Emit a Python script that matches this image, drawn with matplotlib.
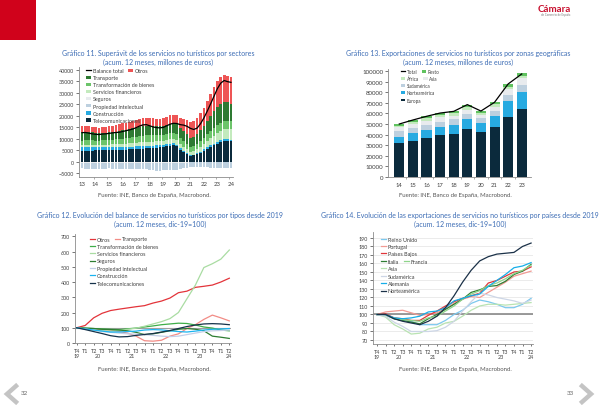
import matplotlib
matplotlib.use("Agg")
import matplotlib.pyplot as plt
from matplotlib.legend import Legend
from matplotlib.lines import Line2D
from matplotlib.patches import Rectangle

W, H = 600, 406
plt.rcParams["font.family"] = ["Lato", "DejaVu Sans"]

# ---------- Chart 1: superavit por sectores (2013T1 - 2024T1) ----------
c1_years = ["13", "14", "15", "16", "17", "18", "19", "20", "21", "22", "23", "24"]
c1_telecom = [4700, 4750, 4800, 4850, 4900, 4950, 5000, 5000, 5000, 5000, 5050, 5100,
              5150, 5200, 5300, 5400, 5500, 5600, 5700, 5800, 5900, 6000, 6100, 6200,
              6400, 6700, 7000, 7100, 6600, 5200, 4100, 3300, 2600, 2700, 3200, 3900,
              4800, 5700, 6500, 7200, 7900, 8500, 9000, 9100, 8800]
c1_construccion = [1600, 1600, 1550, 1550, 1500, 1500, 1450, 1450, 1400, 1400, 1350, 1300,
                   1300, 1250, 1200, 1150, 1100, 1100, 1050, 1000, 1000, 950, 950, 900,
                   900, 900, 850, 850, 800, 700, 600, 500, 350, 400, 450, 500,
                   550, 600, 650, 700, 750, 800, 800, 800, 800]
c1_financieros = [900, 900, 900, 900, 900, 900, 950, 1000, 1050, 1100, 1150, 1200,
                  1300, 1400, 1500, 1600, 1700, 1800, 1850, 1850, 1850, 1800, 1750, 1750,
                  1750, 1800, 1850, 1900, 1850, 1750, 1650, 1500, 1400, 1500, 1700, 1900,
                  2200, 2600, 3000, 3400, 3800, 4100, 4300, 4400, 4500]
c1_transformacion = [2000, 2000, 2000, 1950, 1900, 1850, 1850, 1900, 1950, 2000, 2100, 2200,
                     2300, 2400, 2450, 2500, 2600, 2700, 2750, 2800, 2750, 2700, 2650, 2650,
                     2650, 2700, 2750, 2800, 2750, 2650, 2500, 2300, 2200, 2200, 2400, 2600,
                     2800, 3000, 3200, 3300, 3400, 3500, 3600, 3600, 3600]
c1_transporte = [3600, 3650, 3550, 3450, 3300, 3200, 3250, 3250, 3300, 3400, 3450, 3500,
                 3550, 3650, 3700, 3800, 3900, 4000, 4100, 4100, 4000, 3900, 3850, 3800,
                 3800, 3900, 4000, 4100, 4300, 4400, 4500, 4400, 3800, 3800, 4200, 4700,
                 5300, 6000, 6700, 7300, 7900, 8200, 8400, 8000, 7500]
c1_otros = [2700, 2800, 2600, 2500, 2500, 2400, 2500, 2600, 2600, 2700, 2800, 2900,
            3000, 3100, 3150, 3250, 3400, 3500, 3650, 3650, 3500, 3450, 3400, 3400,
            3400, 3500, 3650, 3650, 4000, 4300, 5250, 6300, 6750, 7000, 7050, 7400,
            7850, 8600, 9450, 10600, 11250, 11700, 11700, 11500, 11800]
c1_seguros = [-500] * 24 + [-400] * 8 + [-300] * 13
c1_propiedad = [-2400, -2500, -2500, -2600, -2600, -2500, -2500, -2500, -2400, -2500, -2600, -2800,
                -2900, -2900, -2900, -2900, -2800, -2700, -2600, -2700, -3000, -3300, -3500, -3500,
                -3400, -3300, -3200, -3200, -3300, -2800, -2300, -2300, -2200, -2000, -2200, -2200,
                -2100, -2200, -2300, -2300, -2400, -2400, -2400, -2500, -2600]
c1_balance = [12600, 12700, 12400, 12100, 11900, 11800, 12000, 12100, 12300, 12500, 12700, 12800,
              13100, 13500, 13800, 14200, 14800, 15500, 16000, 16100, 15600, 15100, 14800, 14700,
              14900, 15600, 16300, 16700, 16600, 16100, 15900, 15400, 14500, 14000, 14600, 16500,
              19000, 22000, 25200, 28500, 31800, 34200, 35300, 34800, 34500]

# ---------- Chart 2: exportaciones por zonas (2014 - 2023) ----------
c2_years = ["14", "15", "16", "17", "18", "19", "20", "21", "22", "23"]
c2_europa = [32000, 34200, 36400, 39300, 40500, 45300, 42100, 47400, 56900, 64200]
c2_norteamerica = [6000, 7300, 7900, 8100, 8800, 9400, 8800, 9900, 15200, 16400]
c2_sudamerica = [5000, 4700, 4700, 4800, 5100, 4800, 4500, 5300, 5700, 6400]
c2_asia = [3900, 3800, 4100, 4200, 3500, 3800, 3100, 3800, 5400, 6400]
c2_africa = [1500, 2200, 2600, 2100, 2500, 2800, 1900, 2300, 2200, 2400]
c2_resto = [1600, 1600, 1600, 1900, 2200, 1900, 2200, 1900, 2600, 2300]
c2_total = [50000, 53800, 57300, 60400, 62000, 68400, 62300, 70600, 88000, 97500]

# ---------- Charts 3 and 4: T4 2019 - T2 2024, dic-19 = 100 ----------
q_labels = ["T4", "T1", "T2", "T3", "T4", "T1", "T2", "T3", "T4", "T1",
            "T2", "T3", "T4", "T1", "T2", "T3", "T4", "T1", "T2"]
year_labels = ["19", "20", "21", "22", "23", "24"]
year_pos = [0, 2.5, 6.5, 10.5, 14.5, 18]

c3_otros = [100, 115, 165, 195, 213, 222, 230, 238, 245, 262, 275, 295, 330, 340, 365, 372, 380, 400, 425]
c3_transporte = [100, 95, 90, 88, 85, 75, 65, 45, 15, 12, 18, 45, 60, 95, 120, 155, 183, 165, 145]
c3_transformacion = [100, 98, 95, 92, 90, 88, 93, 98, 105, 112, 120, 125, 130, 128, 118, 105, 98, 85, 80]
c3_financieros = [100, 95, 85, 80, 78, 82, 90, 97, 110, 125, 140, 160, 200, 290, 380, 495, 520, 550, 610]
c3_seguros = [100, 97, 95, 90, 88, 85, 80, 70, 55, 60, 70, 80, 90, 95, 90, 80, 45, 38, 30]
c3_propiedad = [100, 92, 85, 75, 70, 65, 60, 58, 55, 50, 45, 42, 45, 55, 65, 75, 80, 82, 85]
c3_construccion = [100, 92, 85, 78, 72, 72, 75, 78, 85, 88, 86, 80, 75, 72, 78, 85, 90, 92, 95]
c3_telecom = [100, 88, 75, 62, 48, 40, 42, 50, 56, 62, 72, 82, 95, 108, 118, 125, 127, 125, 120]

c4_reino_unido = [100, 99, 95, 93, 92, 88, 88, 88, 93, 100, 105, 113, 117, 115, 112, 108, 108, 112, 119]
c4_portugal = [100, 103, 104, 105, 102, 99, 100, 102, 107, 113, 118, 121, 120, 126, 132, 138, 145, 148, 151]
c4_paises_bajos = [100, 101, 96, 95, 93, 93, 99, 104, 110, 115, 119, 122, 125, 137, 140, 145, 150, 151, 156]
c4_italia = [100, 100, 95, 93, 91, 89, 95, 100, 106, 112, 118, 126, 129, 133, 134, 139, 147, 151, 159]
c4_francia = [100, 99, 96, 94, 93, 92, 96, 98, 104, 110, 118, 124, 128, 134, 137, 142, 148, 152, 158]
c4_asia = [100, 97, 88, 83, 77, 78, 83, 85, 90, 92, 98, 105, 110, 112, 112, 111, 112, 113, 114]
c4_sudamerica = [100, 98, 91, 86, 80, 80, 80, 81, 85, 92, 104, 115, 125, 123, 120, 118, 116, 113, 117]
c4_alemania = [100, 100, 96, 95, 96, 98, 103, 104, 108, 116, 119, 122, 124, 133, 140, 147, 155, 157, 161]
c4_norteamerica = [100, 100, 95, 92, 90, 88, 92, 98, 108, 122, 138, 152, 163, 168, 171, 172, 173, 180, 184]

# colours
NAVY = "#0b2a3c"
BLUE = "#27aae1"
GREYBLUE = "#bdd0df"
PALE = "#e8ebee"
LIGHTGREEN = "#c3eabd"
MIDGREEN = "#6cc46a"
DARKGREEN = "#2e7a32"
RED = "#ee5555"
TITLE = "#3d6db5"
TICK = "#404040"
SPINE = "#8c8c8c"

fig = plt.figure(figsize=(W / 100, H / 100), dpi=100)


def add_axes_px(left, top, right, bottom):
    return fig.add_axes([left / W, 1 - bottom / H, (right - left) / W, (bottom - top) / H])


def ftext(x, y, s, **kw):
    fig.text(x / W, 1 - y / H, s, **kw)


def style(ax, fs):
    for side in ("top", "right"):
        ax.spines[side].set_visible(False)
    for side in ("left", "bottom"):
        ax.spines[side].set_color(SPINE)
        ax.spines[side].set_linewidth(0.6)
    ax.tick_params(labelsize=fs, colors=TICK, length=2, width=0.5, pad=1.5)


def legend_row(ax, handles, labels, x, y, fs, colsp=1.0):
    # one legend per row, so rows can hold one or two entries like the original
    leg = Legend(ax, handles, labels, ncol=len(handles), loc="center left",
                 bbox_to_anchor=(x / W, 1 - y / H), bbox_transform=fig.transFigure,
                 frameon=False, fontsize=fs, handlelength=0.9, handleheight=0.6,
                 handletextpad=0.35, columnspacing=colsp, borderpad=0, borderaxespad=0,
                 labelcolor=TICK)
    ax.add_artist(leg)


def titles(cx, y1, line1, line2, src_x, src_y):
    ftext(cx, y1, line1, fontsize=5.0, color=TITLE, ha="center", va="center")
    ftext(cx, y1 + 8.5, line2, fontsize=5.0, color=TITLE, ha="center", va="center")
    ftext(src_x, src_y, "Fuente: INE, Banco de España, Macrobond.", fontsize=4.3,
          color="#555555", ha="center", va="center")


# ---------------- Chart 1 ----------------
ax1 = add_axes_px(79, 68.4, 233, 178.3)
style(ax1, 3.9)
x1 = list(range(len(c1_telecom)))
pos_layers = [(c1_telecom, NAVY, "Telecomunicaciones"), (c1_construccion, BLUE, "Construcción"),
              (c1_financieros, LIGHTGREEN, "Servicios financieros"),
              (c1_transformacion, MIDGREEN, "Transformación de bienes"),
              (c1_transporte, DARKGREEN, "Transporte"), (c1_otros, RED, "Otros")]
bars1 = {}
base = [0] * len(x1)
for vals, col, name in pos_layers:
    bars1[name] = ax1.bar(x1, vals, bottom=base, width=0.78, color=col, linewidth=0)
    base = [b + v for b, v in zip(base, vals)]
bars1["Seguros"] = ax1.bar(x1, c1_seguros, width=0.78, color=PALE, linewidth=0)
bars1["Propiedad intelectual"] = ax1.bar(x1, c1_propiedad, bottom=c1_seguros, width=0.78,
                                         color=GREYBLUE, linewidth=0)
bal_line, = ax1.plot(x1, c1_balance, color="black", lw=0.9)
ax1.set_xlim(-0.9, 44.6)
ax1.set_ylim(-6800, 41000)
ax1.set_yticks(range(-5000, 40001, 5000))
ax1.set_xticks([4 * i for i in range(len(c1_years))])
ax1.set_xticklabels(c1_years)
ax1.set_xticks([4 * i - 0.5 for i in range(1, len(c1_years))], minor=True)
ax1.tick_params(axis="x", which="major", length=0, pad=3, labelsize=4.3)
ax1.tick_params(axis="x", which="minor", length=1.5, width=0.5, colors=SPINE)

LF1 = 3.9
legend_row(ax1, [bal_line, bars1["Otros"]], ["Balance total", "Otros"], 86, 71.7, LF1, 0.8)
for i, name in enumerate(["Transporte", "Transformación de bienes", "Servicios financieros",
                          "Seguros", "Propiedad intelectual", "Construcción", "Telecomunicaciones"]):
    legend_row(ax1, [bars1[name]], [name], 86, 78.7 + i * 7.1, LF1)

titles(158, 53.5, "Gráfico 11. Superávit de los servicios no turísticos por sectores",
       "(acum. 12 meses, millones de euros)", 154, 196)

# ---------------- Chart 2 ----------------
ax2 = add_axes_px(388, 70.2, 531, 177.7)
style(ax2, 4.4)
x2 = list(range(len(c2_years)))
layers2 = [(c2_europa, NAVY, "Europa"), (c2_norteamerica, BLUE, "Norteamérica"),
           (c2_sudamerica, GREYBLUE, "Sudamérica"), (c2_asia, PALE, "Asia"),
           (c2_africa, LIGHTGREEN, "África"), (c2_resto, "#5fc25f", "Resto")]
bars2 = {}
base = [0] * len(x2)
for vals, col, name in layers2:
    bars2[name] = ax2.bar(x2, vals, bottom=base, width=0.74, color=col, linewidth=0)
    base = [b + v for b, v in zip(base, vals)]
tot_line, = ax2.plot(x2, c2_total, color="black", lw=0.9)
ax2.set_xlim(-0.83, 9.68)
ax2.set_ylim(0, 102000)
ax2.set_yticks(range(0, 100001, 10000))
ax2.set_xticks(x2)
ax2.set_xticklabels(c2_years)
ax2.set_xticks([i + 0.5 for i in x2[:-1]], minor=True)
ax2.tick_params(axis="x", which="major", length=0, pad=3.5, labelsize=4.2)
ax2.tick_params(axis="x", which="minor", length=1.5, width=0.5, colors=SPINE)

LF2 = 3.3
legend_row(ax2, [tot_line, bars2["Resto"]], ["Total", "Resto"], 401, 72.3, LF2, 1.0)
legend_row(ax2, [bars2["África"], bars2["Asia"]], ["África", "Asia"], 401, 79.5, LF2, 1.0)
for i, name in enumerate(["Sudamérica", "Norteamérica", "Europa"]):
    legend_row(ax2, [bars2[name]], [name], 401, 86.7 + i * 7.2, LF2)

titles(458, 53.5, "Gráfico 13. Exportaciones de servicios no turísticos por zonas geográficas",
       "(acum. 12 meses, millones de euros)", 455, 196)


def quarter_axis(ax, year_off, fs):
    ax.set_xticks(range(len(q_labels)))
    ax.set_xticklabels(q_labels)
    ax.tick_params(axis="x", length=1.5, pad=2, labelsize=fs)
    for yl, yp in zip(year_labels, year_pos):
        ax.text(yp, year_off, yl, transform=ax.get_xaxis_transform(), fontsize=fs,
                color=TICK, ha="center", va="center")


# ---------------- Chart 3 ----------------
ax3 = add_axes_px(75, 235, 230.5, 344)
style(ax3, 3.9)
x3 = list(range(len(q_labels)))
ax3.axhline(100, color="#a0a0a0", lw=0.8, zorder=1)
series3 = [(c3_otros, "#e3343a", "Otros"), (c3_transporte, "#f28c86", "Transporte"),
           (c3_transformacion, "#3fae49", "Transformación de bienes"),
           (c3_financieros, "#a9dca2", "Servicios financieros"),
           (c3_seguros, "#2e7d32", "Seguros"), (c3_propiedad, "#c3cfe8", "Propiedad intelectual"),
           (c3_construccion, "#1ab4f0", "Construcción"), (c3_telecom, "#16324a", "Telecomunicaciones")]
lines3 = {}
for vals, col, name in series3:
    lines3[name], = ax3.plot(x3, vals, color=col, lw=0.9)
ax3.set_xlim(-0.2, 18.14)
ax3.set_ylim(0, 715)
ax3.set_yticks(range(0, 701, 100))
quarter_axis(ax3, -0.118, 3.9)

LF3 = 3.9
legend_row(ax3, [lines3["Otros"], lines3["Transporte"]], ["Otros", "Transporte"], 90, 240, LF3, 0.9)
for i, name in enumerate(["Transformación de bienes", "Servicios financieros", "Seguros",
                          "Propiedad intelectual", "Construcción", "Telecomunicaciones"]):
    legend_row(ax3, [lines3[name]], [name], 90, 247.3 + i * 7.35, LF3)

titles(160, 215.5, "Gráfico 12. Evolución del balance de servicios no turísticos por tipos desde 2019",
       "(acum. 12 meses, dic-19=100)", 154, 369.5)

# ---------------- Chart 4 ----------------
ax4 = add_axes_px(372.7, 233, 532.8, 345.25)
style(ax4, 3.9)
x4 = list(range(len(q_labels)))
ax4.yaxis.grid(True, color="#e3e3e3", lw=0.5)
ax4.set_axisbelow(True)
ax4.axhline(100, color="#7f7f7f", lw=1.1, zorder=1)
series4 = [(c4_reino_unido, "#7cc8ee", "Reino Unido"), (c4_portugal, "#f29b94", "Portugal"),
           (c4_paises_bajos, "#e0363a", "Países Bajos"), (c4_italia, "#2e7d32", "Italia"),
           (c4_francia, "#8fd48a", "Francia"), (c4_asia, "#b9e3b2", "Asia"),
           (c4_sudamerica, "#cdd6e6", "Sudamérica"), (c4_alemania, "#17aee8", "Alemania"),
           (c4_norteamerica, "#1b3148", "Norteamérica")]
lines4 = {}
for vals, col, name in series4:
    lines4[name], = ax4.plot(x4, vals, color=col, lw=0.9)
ax4.set_xlim(-0.5, 18.2)
ax4.set_ylim(65, 197)
ax4.set_yticks(range(70, 191, 10))
quarter_axis(ax4, -0.108, 3.9)

LF4 = 3.9
for i, name in enumerate(["Reino Unido", "Portugal", "Países Bajos"]):
    legend_row(ax4, [lines4[name]], [name], 381, 240 + i * 7.4, LF4)
legend_row(ax4, [lines4["Italia"], lines4["Francia"]], ["Italia", "Francia"], 381, 262.3, LF4, 0.9)
for i, name in enumerate(["Asia", "Sudamérica", "Alemania", "Norteamérica"]):
    legend_row(ax4, [lines4[name]], [name], 381, 269.7 + i * 7.4, LF4)

titles(460, 215.5, "Gráfico 14. Evolución de las exportaciones de servicios no turísticos por países desde 2019",
       "(acum. 12 meses, dic-19=100)", 455, 369.5)

# ---------------- page decoration ----------------
fig.add_artist(Rectangle((0, 1 - 41 / H), 36 / W, 41 / H, transform=fig.transFigure,
                         color="#d0021b", lw=0))
ftext(554, 9.5, "Cámara", fontsize=7, color="#c8102e", fontweight="bold", ha="center", va="center")
ftext(556, 15, "de Comercio de España", fontsize=2, color="#777777", ha="center", va="center")
for xs, num, nx in (([16, 7, 16], "32", 24), ([582, 591, 582], "33", 570)):
    fig.add_artist(Line2D([v / W for v in xs], [1 - 387 / H, 1 - 395 / H, 1 - 403 / H],
                          transform=fig.transFigure, color="#c4c4c4", lw=3.2,
                          solid_joinstyle="miter"))
    ftext(nx, 394, num, fontsize=4.5, color="#666666", ha="center", va="center")

fig.savefig("out.png", dpi=100)
